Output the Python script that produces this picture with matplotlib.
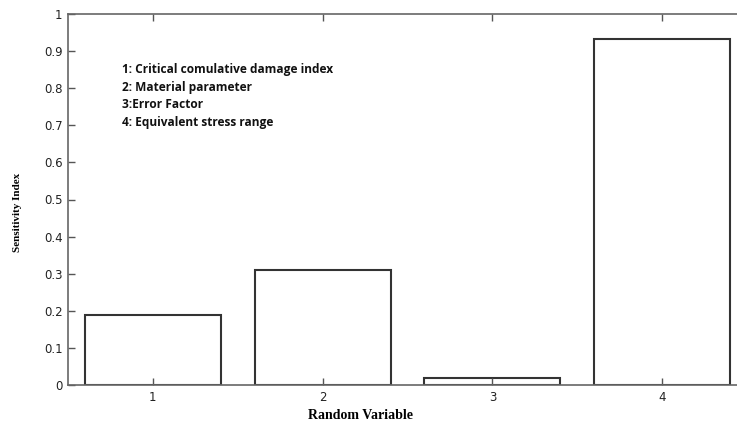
import numpy as np
import matplotlib
matplotlib.use("Agg")
import matplotlib.pyplot as plt
from matplotlib.transforms import Affine2D

# sensitivity of each random variable
variables = [1, 2, 3, 4]
sensitivity = [0.19, 0.31, 0.02, 0.932]
legend_lines = [
    "1: Critical comulative damage index",
    "2: Material parameter",
    "3:Error Factor",
    "4: Equivalent stress range",
]

W, H = 737, 422
fig = plt.figure(figsize=(W / 100, H / 100), dpi=100)
# axes run slightly past the right edge of the canvas
ax = fig.add_axes([68 / W, 37 / H, 679 / W, 371 / H])

ax.bar(variables, sensitivity, width=0.8, color="white",
       edgecolor="#333333", linewidth=1.5)

ax.set_xlim(0.5, 4.5)
ax.set_ylim(0, 1)
ax.set_xticks(variables)
ax.set_yticks(np.arange(0, 1.01, 0.1))
ax.set_yticklabels(["0", "0.1", "0.2", "0.3", "0.4", "0.5", "0.6", "0.7",
                    "0.8", "0.9", "1"])
ax.tick_params(direction="in", length=5, width=1, color="#555555",
               labelsize=8.5, labelcolor="#222222", top=True, right=True,
               pad=4)
for lbl in ax.get_xticklabels() + ax.get_yticklabels():
    lbl.set_family("DejaVu Sans")
for s in ax.spines.values():
    s.set_color("#666666")
    s.set_linewidth(1.2)

ax.set_xlabel("Random Variable", family="Liberation Serif",
              fontweight="bold", fontsize=10)
ax.xaxis.set_label_coords((360 - 68) / 679, -0.064)
ax.set_ylabel("Sensitivity Index", family="Liberation Serif",
              fontweight="bold", fontsize=8)
ax.yaxis.set_label_coords(-0.068, 0.466)

# legend text, positioned in pixels from the top-left corner
px = Affine2D().scale(1, -1).translate(0, H)
for i, line in enumerate(legend_lines):
    ax.text(122, 70 + i * 17.4, line, transform=px, fontsize=8.6,
            fontweight="bold", family="Open Sans", color="#111111",
            va="center", ha="left")

fig.savefig("out.png", dpi=100)
